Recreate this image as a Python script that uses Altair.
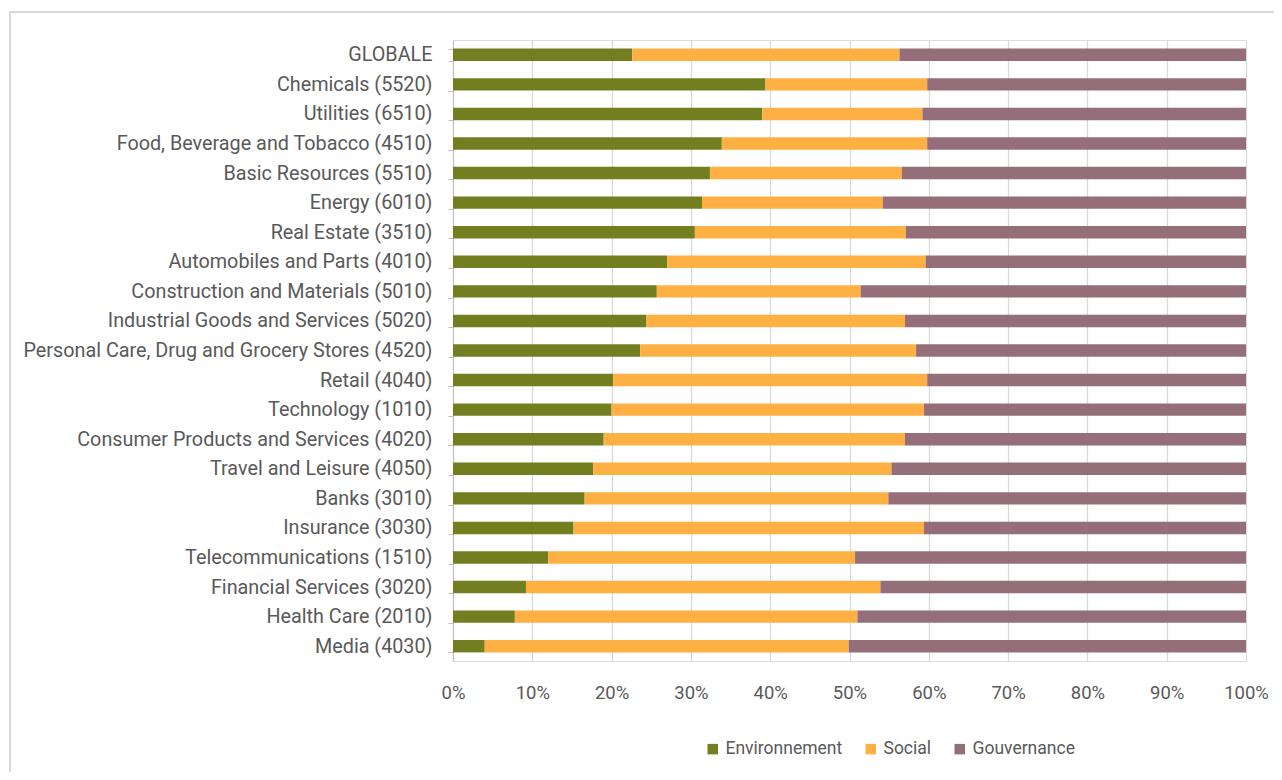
import altair as alt
import pandas as pd

categories = [
    "GLOBALE", "Chemicals (5520)", "Utilities (6510)", "Food, Beverage and Tobacco (4510)",
    "Basic Resources (5510)", "Energy (6010)", "Real Estate (3510)", "Automobiles and Parts (4010)",
    "Construction and Materials (5010)", "Industrial Goods and Services (5020)",
    "Personal Care, Drug and Grocery Stores (4520)", "Retail (4040)", "Technology (1010)",
    "Consumer Products and Services (4020)", "Travel and Leisure (4050)", "Banks (3010)",
    "Insurance (3030)", "Telecommunications (1510)", "Financial Services (3020)",
    "Health Care (2010)", "Media (4030)",
]
environnement = [22.6, 39.4, 39.0, 33.9, 32.4, 31.4, 30.5, 27.0, 25.7, 24.4, 23.6,
                 20.2, 20.0, 19.0, 17.7, 16.6, 15.2, 12.0, 9.2, 7.8, 4.0]
social = [33.7, 20.4, 20.2, 25.9, 24.2, 22.8, 26.6, 32.6, 25.7, 32.6, 34.8,
          39.6, 39.4, 38.0, 37.6, 38.3, 44.2, 38.7, 44.7, 43.2, 45.9]
gouvernance = [43.7, 40.2, 40.8, 40.2, 43.4, 45.8, 42.9, 40.4, 48.6, 43.0, 41.6,
               40.2, 40.6, 43.0, 44.7, 45.1, 40.6, 49.3, 46.1, 49.0, 50.1]
series = ["Environnement", "Social", "Gouvernance"]
colors = ["#737e20", "#ffb042", "#946e78"]
x_ticks = [0, 0.1, 0.2, 0.3, 0.4, 0.5, 0.6, 0.7, 0.8, 0.9, 1.0]

rows = []
for i, c in enumerate(categories):
    for k, (s, vals) in enumerate(zip(series, [environnement, social, gouvernance])):
        rows.append({"cat": c, "serie": s, "val": vals[i], "ord": k})
df = pd.DataFrame(rows)

FONT = "Roboto"
GRAY = "#595959"

bars = alt.Chart(df).mark_bar().encode(
    y=alt.Y("cat:N", sort=categories, title=None,
            scale=alt.Scale(paddingInner=0.58, paddingOuter=0.29),
            axis=alt.Axis(labelFont=FONT, labelFontSize=19.8, labelColor=GRAY,
                          labelPadding=16, tickBand="extent", tickSize=5,
                          tickColor="#bfbfbf", domainColor="#bfbfbf", grid=False,
                          labelLimit=500)),
    x=alt.X("val:Q", stack="normalize", title=None,
            scale=alt.Scale(domain=[0, 1], nice=False),
            axis=alt.Axis(values=x_ticks, format=".0%", labelFont=FONT, labelFontSize=18.5,
                          labelColor=GRAY, labelPadding=22, ticks=False, domain=False,
                          labelFlush=False, labelOverlap=False,
                          grid=True, gridColor="#d9d9d9", gridWidth=1.3)),
    color=alt.Color("serie:N", sort=series,
                    scale=alt.Scale(domain=series, range=colors),
                    legend=alt.Legend(title=None, orient="none", direction="horizontal",
                                      legendX=251, legendY=700, symbolType="square",
                                      symbolSize=110, symbolStrokeWidth=0,
                                      labelFont=FONT, labelFontSize=17.5, labelColor=GRAY,
                                      columnPadding=19, labelOffset=4)),
    order=alt.Order("ord:Q"),
)

frame_h = alt.Chart(df).mark_rule(color="#d9d9d9", strokeWidth=2).encode(
    x=alt.value(-444), x2=alt.value(900), y=alt.value(-28))
frame_v = alt.Chart(df).mark_rule(color="#d9d9d9", strokeWidth=2).encode(
    x=alt.value(-443), y=alt.value(-29), y2=alt.value(760))

chart = alt.layer(frame_h, frame_v, bars).properties(
    width=793, height=621,
    padding={"left": 445, "top": 32, "right": 28, "bottom": 111},
    autosize=alt.AutoSizeParams(type="none"),
).configure_view(stroke=None).configure(background="white")

chart.save("out.html", embed_options={"renderer": "svg", "actions": False})
